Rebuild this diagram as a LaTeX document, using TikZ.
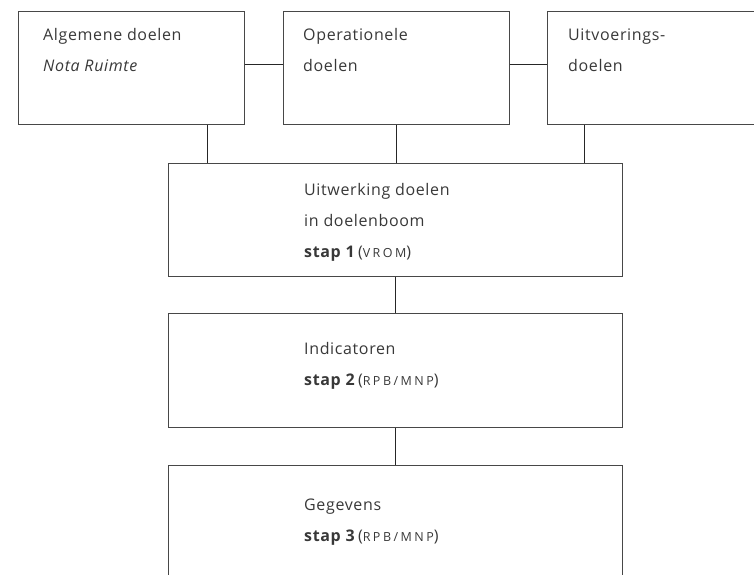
\documentclass[tikz,border=0pt]{standalone}
\usepackage{fontspec}
\setmainfont{Open Sans}[LetterSpace=4]
\newcommand{\smcaps}[1]{{\fontsize{12.5}{31}\selectfont\addfontfeatures{LetterSpace=20}#1}}
\begin{document}
\begin{tikzpicture}[x=1pt,y=-1pt,
  box/.style={draw=black!72, line width=0.8pt, anchor=north west, inner sep=0pt},
  txt/.style={anchor=base west, align=left, inner sep=0pt, text=black!78,
    font=\fontsize{16}{31}\selectfont},
  conn/.style={draw=black!85, line width=0.7pt}]
\useasboundingbox (0,0) rectangle (754,574);
\begin{scope}
\clip (0,0) rectangle (754,574);
\node[box, minimum width=226pt, minimum height=113pt] (b1) at (18,11) {};
\node[box, minimum width=226pt, minimum height=113pt] (b2) at (283,11) {};
\node[box, minimum width=240pt, minimum height=113pt] (b3) at (547,11) {};
\node[box, minimum width=454pt, minimum height=113pt] (b4) at (168,163) {};
\node[box, minimum width=454pt, minimum height=114pt] (b5) at (168,313) {};
\node[box, minimum width=454pt, minimum height=150pt] (b6) at (168,465) {};

% anchor base = baseline of the last line
\node[txt] (t1) at (43,71) {Algemene doelen\\\textit{Nota Ruimte}};
\node[txt] (t2) at (303,71) {Operationele\\doelen};
\node[txt] (t3) at (568,71) {Uitvoerings-\\doelen};
\node[txt] (t4) at (304,257) {Uitwerking doelen\\in doelenboom\\\textbf{stap 1}\,(\smcaps{VROM})};
\node[txt] (t5) at (304,385) {Indicatoren\\\textbf{stap 2}\,(\smcaps{RPB/MNP})};
\node[txt] (t6) at (304,541) {Gegevens\\\textbf{stap 3}\,(\smcaps{RPB/MNP})};

\coordinate (x1) at (207,0);
\coordinate (x3) at (584,0);
\draw[conn] ([yshift=3.5pt]b1.east) -- ([yshift=3.5pt]b2.west);
\draw[conn] ([yshift=3.5pt]b2.east) -- ([yshift=3.5pt]b3.west);
\draw[conn] (b1.south -| x1) -- (b4.north -| x1);
\draw[conn] (b2.south) -- (b2.south |- b4.north);
\draw[conn] (b3.south -| x3) -- (b4.north -| x3);
\draw[conn] (b4.south) -- (b5.north);
\draw[conn] (b5.south) -- (b6.north);
\end{scope}
\end{tikzpicture}
\end{document}
